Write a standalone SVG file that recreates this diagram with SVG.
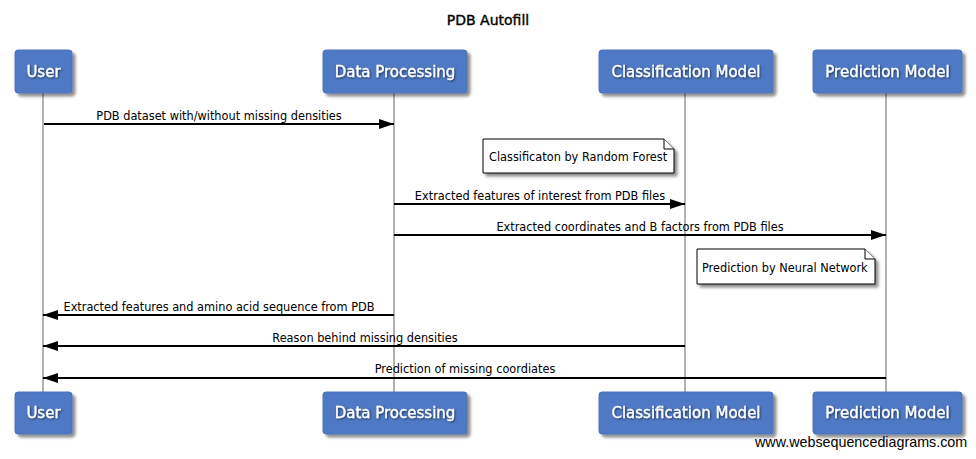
<svg xmlns="http://www.w3.org/2000/svg" width="976" height="459" viewBox="0 0 976 459">
<defs>
<filter id="sh" x="-20%" y="-20%" width="140%" height="150%">
<feGaussianBlur in="SourceAlpha" stdDeviation="1.5"/>
<feOffset dx="3" dy="3" result="b"/>
<feComponentTransfer><feFuncA type="linear" slope="0.45"/></feComponentTransfer>
<feMerge><feMergeNode/><feMergeNode in="SourceGraphic"/></feMerge>
</filter>
<filter id="ts" x="-10%" y="-30%" width="120%" height="160%">
<feGaussianBlur in="SourceAlpha" stdDeviation="0.8"/>
<feOffset dx="1" dy="1"/>
<feComponentTransfer><feFuncA type="linear" slope="0.6"/></feComponentTransfer>
<feMerge><feMergeNode/><feMergeNode in="SourceGraphic"/></feMerge>
</filter>
<marker id="ah" markerWidth="15" markerHeight="10" refX="15" refY="5" orient="auto" markerUnits="userSpaceOnUse">
<path d="M0,0 L15,5 L0,10 Z" fill="#000"/>
</marker>
</defs>
<style>
.bx{fill:#5079c4;stroke:#4a72b8;stroke-width:1}
.pt{font-family:"DejaVu Sans",sans-serif;font-size:15px;fill:#fff;text-anchor:middle;stroke:#fff;stroke-width:0.3}
.life{stroke:#999;stroke-width:1.5}
.msg{stroke:#000;stroke-width:2;fill:none;marker-end:url(#ah)}
.ml{font-family:"DejaVu Sans Condensed","DejaVu Sans",sans-serif;font-size:12.6px;fill:#000}
.note{fill:#fff;stroke:#000;stroke-width:1}
.t{font-family:"DejaVu Sans",sans-serif;font-size:14px;fill:#000;text-anchor:middle;stroke:#000;stroke-width:0.4}
.ft{font-family:"Liberation Sans",Arial,sans-serif;font-size:14.3px;fill:#000}
</style>
<rect width="976" height="459" fill="#fff"/>
<text class="t" x="488" y="25">PDB Autofill</text>
<g id="lifelines">
<line class="life" x1="43" y1="93" x2="43" y2="392"/>
<line class="life" x1="394" y1="93" x2="394" y2="392"/>
<line class="life" x1="685" y1="93" x2="685" y2="392"/>
<line class="life" x1="886" y1="93" x2="886" y2="392"/>
</g>
<g id="user_top"><rect class="bx" x="15" y="50" width="57" height="43" rx="3" filter="url(#sh)"/><text class="pt" x="43.5" y="77" filter="url(#ts)">User</text></g>
<g id="dp_top"><rect class="bx" x="323" y="50" width="144" height="43" rx="3" filter="url(#sh)"/><text class="pt" x="395" y="77" filter="url(#ts)">Data Processing</text></g>
<g id="cm_top"><rect class="bx" x="599" y="50" width="174" height="43" rx="3" filter="url(#sh)"/><text class="pt" x="686" y="77" filter="url(#ts)">Classification Model</text></g>
<g id="pm_top"><rect class="bx" x="813" y="50" width="149" height="43" rx="3" filter="url(#sh)"/><text class="pt" x="887.5" y="77" filter="url(#ts)">Prediction Model</text></g>
<g id="user_bot"><rect class="bx" x="15" y="392" width="57" height="42" rx="3" filter="url(#sh)"/><text class="pt" x="43.5" y="418" filter="url(#ts)">User</text></g>
<g id="dp_bot"><rect class="bx" x="323" y="392" width="144" height="42" rx="3" filter="url(#sh)"/><text class="pt" x="395" y="418" filter="url(#ts)">Data Processing</text></g>
<g id="cm_bot"><rect class="bx" x="599" y="392" width="174" height="42" rx="3" filter="url(#sh)"/><text class="pt" x="686" y="418" filter="url(#ts)">Classification Model</text></g>
<g id="pm_bot"><rect class="bx" x="813" y="392" width="149" height="42" rx="3" filter="url(#sh)"/><text class="pt" x="887.5" y="418" filter="url(#ts)">Prediction Model</text></g>
<g id="note1" filter="url(#sh)"><path class="note" d="M483,139 H664 L674,149 V173 H483 Z"/><path class="note" d="M664,139 V149 H674" fill="none"/></g>
<text class="ml" x="489" y="161">Classificaton by Random Forest</text>
<g id="note2" filter="url(#sh)"><path class="note" d="M697,249 H865 L875,259 V284 H697 Z"/><path class="note" d="M865,249 V259 H875" fill="none"/></g>
<text class="ml" x="702" y="272">Prediction by Neural Network</text>
<g id="connectors">
<line class="msg" x1="44" y1="124" x2="394" y2="124"/>
<line class="msg" x1="394" y1="204" x2="685" y2="204"/>
<line class="msg" x1="394" y1="235" x2="886" y2="235"/>
<line class="msg" x1="394" y1="315" x2="43" y2="315"/>
<line class="msg" x1="685" y1="346" x2="43" y2="346"/>
<line class="msg" x1="886" y1="378" x2="43" y2="378"/>
</g>
<g id="labels">
<text class="ml" x="219" y="120" text-anchor="middle">PDB dataset with/without missing densities</text>
<text class="ml" x="540" y="200" text-anchor="middle">Extracted features of interest from PDB files</text>
<text class="ml" x="640" y="231" text-anchor="middle">Extracted coordinates and B factors from PDB files</text>
<text class="ml" x="219" y="311" text-anchor="middle">Extracted features and amino acid sequence from PDB</text>
<text class="ml" x="365" y="342" text-anchor="middle">Reason behind missing densities</text>
<text class="ml" x="465" y="373" text-anchor="middle">Prediction of missing coordiates</text>
</g>
<text class="ft" x="755" y="447">www.websequencediagrams.com</text>
</svg>
